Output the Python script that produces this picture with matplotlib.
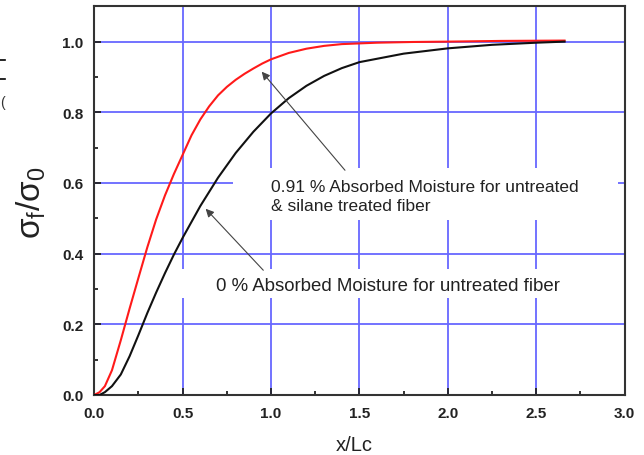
import numpy as np
import matplotlib
matplotlib.use('Agg')
import matplotlib.pyplot as plt
from matplotlib.patches import Rectangle
from matplotlib.lines import Line2D
from matplotlib.ticker import MultipleLocator

plt.rcParams['font.family'] = ['Liberation Sans', 'DejaVu Sans']

# values
x_wet = [0, 0.03, 0.06, 0.1, 0.15, 0.2, 0.25, 0.3, 0.35, 0.4, 0.45, 0.5, 0.55, 0.6, 0.65, 0.7,
         0.75, 0.8, 0.85, 0.9, 0.95, 1.0, 1.1, 1.2, 1.3, 1.4, 1.6, 1.8, 2.0, 2.3, 2.66]
y_wet = [0.0, 0.008, 0.025, 0.07, 0.155, 0.245, 0.332, 0.418, 0.497, 0.565, 0.625, 0.68, 0.735, 0.78, 0.817, 0.848,
         0.872, 0.892, 0.909, 0.924, 0.938, 0.95, 0.968, 0.98, 0.988, 0.993, 0.997, 0.999, 1.0, 1.002, 1.003]

x_dry = [0, 0.03, 0.06, 0.1, 0.15, 0.2, 0.25, 0.3, 0.35, 0.4, 0.45, 0.5, 0.55, 0.6, 0.7, 0.8,
         0.9, 1.0, 1.1, 1.2, 1.3, 1.4, 1.5, 1.75, 2.0, 2.25, 2.5, 2.66]
y_dry = [0.0, 0.0, 0.008, 0.025, 0.058, 0.11, 0.17, 0.232, 0.29, 0.345, 0.397, 0.445, 0.49, 0.535, 0.615, 0.685,
         0.745, 0.797, 0.84, 0.875, 0.903, 0.925, 0.942, 0.966, 0.981, 0.991, 0.997, 1.0]

label_wet = '0.91 % Absorbed Moisture for untreated\n& silane treated fiber'
label_dry = '0 % Absorbed Moisture for untreated fiber'

fig = plt.figure(figsize=(6.44, 4.56), dpi=100)
ax = fig.add_axes([0.1464, 0.1316, 0.8236, 0.8524])

ax.set_axisbelow(True)
ax.grid(True, which='major', color='#6767ff', lw=1.3)

ax.plot(x_wet, y_wet, color='#ff1a1a', lw=1.5, zorder=3)
ax.plot(x_dry, y_dry, color='#111111', lw=1.5, zorder=3)

# white patches behind the annotation texts (they cut the grid)
ax.add_patch(Rectangle((0.784, 0.494), 2.18, 0.147, fc='white', ec='none', zorder=1))
ax.add_patch(Rectangle((0.475, 0.275), 2.39, 0.082, fc='white', ec='none', zorder=1))

ax.text(1.0, 0.563, label_wet, fontsize=12.5, color='#222222', va='center', ha='left',
        linespacing=1.36, zorder=4)
ax.text(0.69, 0.31, label_dry, fontsize=13.4, color='#222222', va='center', ha='left', zorder=4)

ap = dict(arrowstyle='-|>', color='#444444', lw=0.8, mutation_scale=12, shrinkA=0, shrinkB=0)
ax.annotate('', xy=(0.947, 0.915), xytext=(1.418, 0.636), arrowprops=ap, zorder=4)
ax.annotate('', xy=(0.63, 0.527), xytext=(0.956, 0.353), arrowprops=ap, zorder=4)

ax.set_xlim(0, 3.0)
ax.set_ylim(0, 1.1)
ax.xaxis.set_major_locator(MultipleLocator(0.5))
ax.xaxis.set_minor_locator(MultipleLocator(0.25))
ax.yaxis.set_minor_locator(MultipleLocator(0.1))
ax.set_yticks([0.0, 0.2, 0.4, 0.6, 0.8, 1.0])
ax.tick_params(which='both', direction='in', top=False, right=False, color='#222222', width=1.3)
ax.tick_params(which='major', length=5, labelsize=11, labelcolor='#222222')
ax.tick_params(axis='y', which='major', pad=8)
ax.tick_params(axis='x', which='major', pad=8)
ax.tick_params(which='minor', length=3)
for lab in ax.get_xticklabels() + ax.get_yticklabels():
    lab.set_fontweight('bold')
for s in ax.spines.values():
    s.set_linewidth(1.5)
    s.set_color('#333333')

ax.set_xlabel('x/Lc', fontsize=14.5, color='#222222')
ax.xaxis.set_label_coords(0.49, -0.103)
ax.set_ylabel(r'$\mathregular{\sigma_f/\sigma_0}$', fontsize=24, color='#222222')
ax.yaxis.set_label_coords(-0.087, 0.498)

# fragments of the neighbouring figure at the left edge
fig.add_artist(Line2D([0, 0.008], [1 - 61 / 456, 1 - 61 / 456], color='black', lw=1.2))
fig.add_artist(Line2D([0, 0.008], [1 - 80 / 456, 1 - 80 / 456], color='black', lw=1.2))
fig.text(0.0, 1 - 103 / 456, '(', fontsize=10, color='#333333', va='center', ha='left')

fig.savefig('out.png', dpi=100)
